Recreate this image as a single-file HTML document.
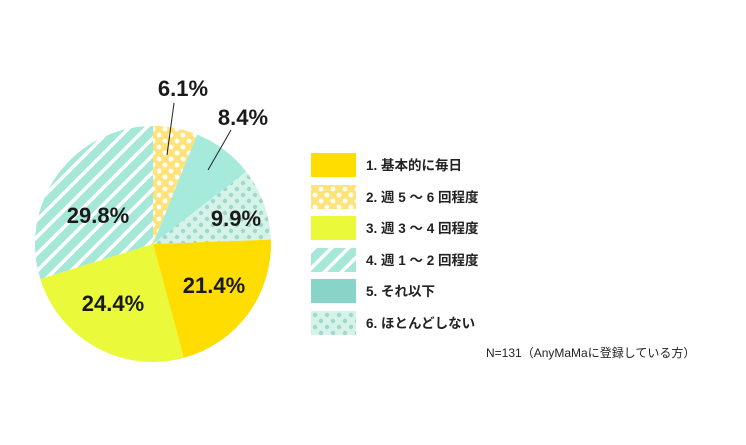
<!DOCTYPE html><html><head><meta charset="utf-8"><style>
body{margin:0;background:#fff;}
svg text{font-family:"Liberation Sans","Noto Sans CJK JP",sans-serif;}
</style></head><body>
<svg width="746" height="440" xmlns="http://www.w3.org/2000/svg">
<defs>
<pattern id="dY" width="12" height="12" patternUnits="userSpaceOnUse"><rect width="12" height="12" fill="#ffe27a"/><circle cx="3" cy="3" r="2.4" fill="#fff"/><circle cx="9" cy="9" r="2.4" fill="#fff"/></pattern>
<pattern id="dT" width="12" height="12" patternUnits="userSpaceOnUse"><rect width="12" height="12" fill="#d6f3ea"/><circle cx="3" cy="3" r="2.2" fill="#9fd8c8"/><circle cx="9" cy="9" r="2.2" fill="#9fd8c8"/></pattern>
<pattern id="st" width="12" height="12" patternUnits="userSpaceOnUse" patternTransform="rotate(45)"><rect width="12" height="12" fill="#a6e8d8"/><rect width="3.5" height="12" fill="#fff"/></pattern>
</defs>
<path d="M153,244 L153,126 A118,118 0 0 1 197.1,134.6Z" fill="url(#dY)"/>
<path d="M153,244 L197.1,134.6 A118,118 0 0 1 246.2,171.7Z" fill="#a6eadb"/>
<path d="M153,244 L246.2,171.7 A118,118 0 0 1 270.9,239.6Z" fill="url(#dT)"/>
<path d="M153,244 L270.9,239.6 A118,118 0 0 1 183.8,357.9Z" fill="#ffdd00"/>
<path d="M153,244 L183.8,357.9 A118,118 0 0 1 40.3,279Z" fill="#eafa3a"/>
<path d="M153,244 L40.3,279 A118,118 0 0 1 153,126Z" fill="url(#st)"/>
<line x1="174" y1="103" x2="167" y2="155" stroke="#222" stroke-width="1"/>
<line x1="231" y1="130" x2="208" y2="170" stroke="#222" stroke-width="1"/>
<g font-weight="bold" font-size="22" fill="#1a1a1a" text-anchor="middle">
<text x="183" y="96">6.1%</text>
<text x="243" y="125">8.4%</text>
<text x="236" y="226">9.9%</text>
<text x="214" y="293">21.4%</text>
<text x="113" y="311">24.4%</text>
<text x="98" y="223">29.8%</text>
</g>
<rect x="311" y="153" width="45" height="24" fill="#ffdd00"/>
<rect x="311" y="185" width="45" height="24" fill="url(#dY)"/>
<rect x="311" y="216" width="45" height="24" fill="#eafa3a"/>
<rect x="311" y="248" width="45" height="24" fill="url(#st)"/>
<rect x="311" y="279" width="45" height="24" fill="#88d4c8"/>
<rect x="311" y="311" width="45" height="24" fill="url(#dT)"/>
<g font-weight="bold" font-size="13.5" fill="#222">
<text x="366" y="170">1. 基本的に毎日</text>
<text x="366" y="202">2. 週 5 ～ 6 回程度</text>
<text x="366" y="233">3. 週 3 ～ 4 回程度</text>
<text x="366" y="265">4. 週 1 ～ 2 回程度</text>
<text x="366" y="296">5. それ以下</text>
<text x="366" y="328">6. ほとんどしない</text>
</g>
<text x="486" y="357" font-size="12" fill="#222">N=131（AnyMaMaに登録している方）</text>
</svg>
</body></html>
